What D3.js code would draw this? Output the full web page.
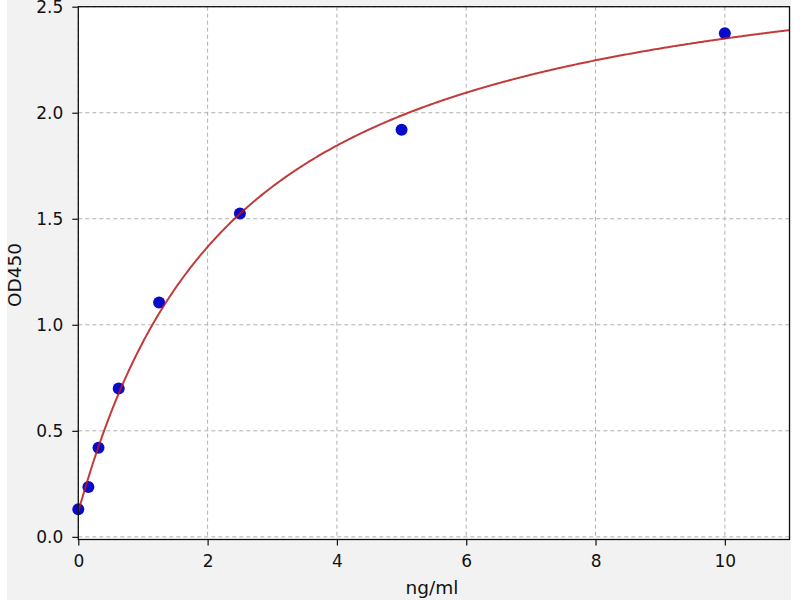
<!DOCTYPE html>
<html><head><meta charset="utf-8">
<script src="https://cdn.jsdelivr.net/npm/d3@7"></script>
<style>body{margin:0;background:#fff}svg{display:block}</style>
</head><body>
<svg id="c" width="800" height="600"></svg>
<script>
const concentrations = [0, 0.156, 0.3125, 0.625, 1.25, 2.5, 5, 10];
const odValues = [0.13, 0.235, 0.42, 0.70, 1.105, 1.525, 1.92, 2.375];
const xTicks = [0, 2, 4, 6, 8, 10];
const yTicks = [0.0, 0.5, 1.0, 1.5, 2.0, 2.5];
// fitted 4PL curve parameters (a: bottom, d: top, c: mid, b: slope)
const fitA = 0.12, fitD = 2.87, fitC = 2.40, fitB = 1.02;

const svg = d3.select("#c");
svg.append("rect").attr("x",7).attr("y",0).attr("width",784).attr("height",600).attr("fill","#f2f2f2");
const L=78.3, R=789.5, T=6.7, B=539.5;
const x = d3.scaleLinear().domain([0,11]).range([L,R]);
const y = d3.scaleLinear().domain([-0.0125,2.5]).range([B,T]);
svg.append("rect").attr("x",L).attr("y",T).attr("width",R-L).attr("height",B-T).attr("fill","#fff");

const font = "DejaVu Sans, sans-serif";
const gx = svg.append("g").attr("transform",`translate(0,${B})`)
  .call(d3.axisBottom(x).tickValues(xTicks).tickFormat(d3.format("d")).tickSize(6).tickPadding(9));
const gy = svg.append("g").attr("transform",`translate(${L},0)`)
  .call(d3.axisLeft(y).tickValues(yTicks).tickFormat(d3.format(".1f")).tickSize(6).tickPadding(9));
[gx,gy].forEach(g=>{g.select(".domain").remove();g.selectAll("text").attr("font-family",font).attr("font-size",17).attr("fill","#111");g.selectAll("line").attr("stroke","#111").attr("stroke-width",1.2);});

// grid
svg.append("g").selectAll("line").data(xTicks).join("line")
  .attr("x1",d=>x(d)).attr("x2",d=>x(d)).attr("y1",T).attr("y2",B)
  .attr("stroke","#b0b0b0").attr("stroke-dasharray","4,3").attr("stroke-width",1);
svg.append("g").selectAll("line").data(yTicks).join("line")
  .attr("x1",L).attr("x2",R).attr("y1",d=>y(d)).attr("y2",d=>y(d))
  .attr("stroke","#b0b0b0").attr("stroke-dasharray","4,3").attr("stroke-width",1);

// points
svg.append("g").selectAll("circle").data(concentrations).join("circle")
  .attr("cx",d=>x(d)).attr("cy",(d,i)=>y(odValues[i])).attr("r",6).attr("fill","#0a0acc");

// curve
const curveX = d3.range(0, 11.001, 0.02);
const f = v => fitD + (fitA-fitD)/(1+Math.pow(v/fitC, fitB));
svg.append("path").datum(curveX)
  .attr("d", d3.line().x(d=>x(d)).y(d=>y(f(d))))
  .attr("fill","none").attr("stroke","#b81818").attr("stroke-width",2).attr("stroke-opacity",0.85);

// frame
svg.append("rect").attr("x",L).attr("y",T).attr("width",R-L).attr("height",B-T)
  .attr("fill","none").attr("stroke","#111").attr("stroke-width",1.3);

svg.append("text").attr("x",432).attr("y",594).attr("text-anchor","middle")
  .attr("font-family",font).attr("font-size",18.5).attr("fill","#111").text("ng/ml");
svg.append("text").attr("transform",`translate(20.5,275) rotate(-90)`).attr("text-anchor","middle")
  .attr("font-family",font).attr("font-size",18.5).attr("fill","#111").text("OD450");
</script>
</body></html>
